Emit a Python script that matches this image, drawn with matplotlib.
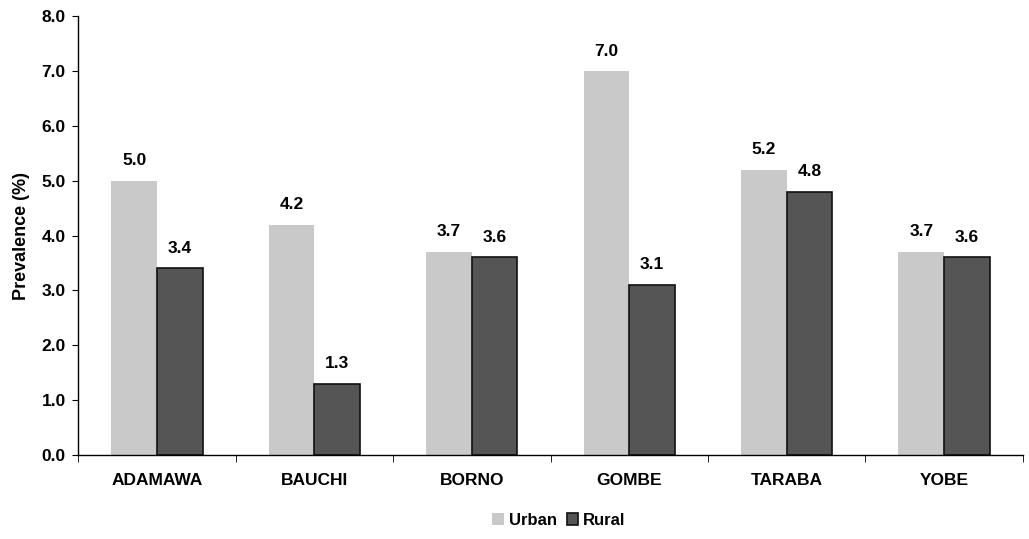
import matplotlib.pyplot as plt
import numpy as np

states = ['ADAMAWA', 'BAUCHI', 'BORNO', 'GOMBE', 'TARABA', 'YOBE']
urban = [5.0, 4.2, 3.7, 7.0, 5.2, 3.7]
rural = [3.4, 1.3, 3.6, 3.1, 4.8, 3.6]

plt.rcParams['font.family'] = ['Liberation Sans', 'DejaVu Sans']
plt.rcParams['font.weight'] = 'bold'

fig = plt.figure(figsize=(10.29, 5.39), dpi=100)
ax = fig.add_axes([0.076, 0.156, 0.918, 0.814])

x = np.arange(len(states))
w = 0.29
b1 = ax.bar(x - w / 2, urban, w, color='#c9c9c9', label='Urban', zorder=2)
b2 = ax.bar(x + w / 2, rural, w, color='#555555', edgecolor='#111111',
            linewidth=1.2, label='Rural', zorder=2)

for bars, vals in ((b1, urban), (b2, rural)):
    for r, v in zip(bars, vals):
        ax.annotate('%.1f' % v, (r.get_x() + r.get_width() / 2, v),
                    xytext=(0, 9), textcoords='offset points',
                    ha='center', va='bottom', fontsize=12.5, fontweight='bold')

ax.set_xlim(-0.5, len(states) - 0.5)
ax.set_ylim(0, 8)
ax.set_yticks(np.arange(0, 8.1, 1.0))
ax.set_yticklabels(['%.1f' % t for t in np.arange(0, 8.1, 1.0)])
ax.set_xticks(x)
ax.set_xticklabels(states)
ax.set_xticks(np.arange(-0.5, len(states), 1.0), minor=True)
ax.tick_params(axis='x', which='major', length=0, pad=13, labelsize=12.5)
ax.tick_params(axis='x', which='minor', length=5, direction='out')
ax.tick_params(axis='y', length=4, labelsize=12.5, pad=5)
for s in ('top', 'right'):
    ax.spines[s].set_visible(False)
ax.spines['left'].set_linewidth(1.0)
ax.spines['bottom'].set_linewidth(1.0)

ax.set_ylabel('Prevalence (%)', fontsize=13, fontweight='bold', labelpad=8)

fig.legend(handles=[b1, b2], loc='center', bbox_to_anchor=(0.543, 0.035),
           ncol=2, frameon=False, fontsize=12, handlelength=0.7,
           handleheight=0.7, handletextpad=0.3, columnspacing=0.6)

fig.savefig('out.png', dpi=100)
